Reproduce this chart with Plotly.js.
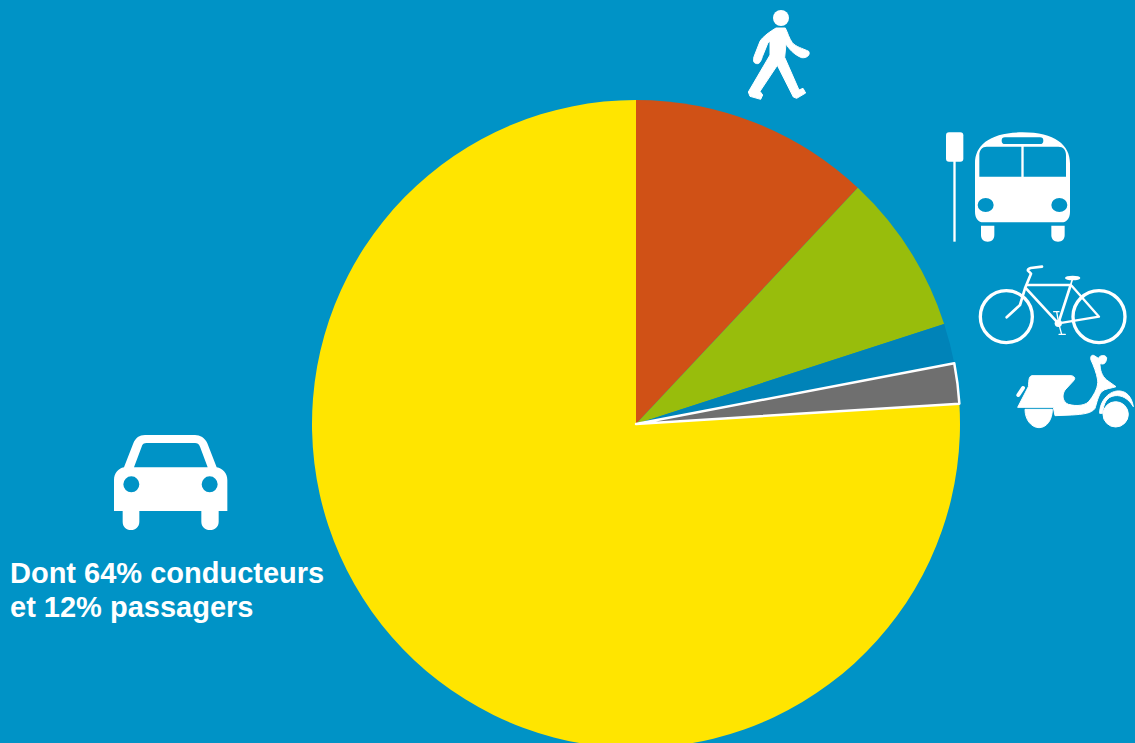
<!DOCTYPE html>
<html lang="fr">
<head>
<meta charset="utf-8">
<title>Parts modales des déplacements</title>
<script src="https://cdn.plot.ly/plotly-3.0.1.min.js"></script>
<style>
  html, body { margin: 0; padding: 0; width: 1135px; height: 743px; overflow: hidden; background: #0093C6; }
</style>
</head>
<body>
<div id="chart"></div>
<script>
// Parts modales, en % des déplacements
const modes = ['Voiture', 'Marche', 'Transports en commun', 'Vélo', 'Deux-roues motorisés'];
const shares = [76, 12, 8, 2, 2];
const sliceColors = ['#FFE500', '#D05116', '#98BD0C', '#0083B8', '#6F6F6F'];
const sliceLineWidths = [0, 0, 0, 0, 2.5];
const carNoteLines = ['Dont 64% conducteurs', 'et 12% passagers'];

// The figure is taller than the window so the disc runs off the bottom edge.
const W = 1135, H = 800;
const background = '#0093C6';

// Pictograms, each drawn in a local grid three times finer than page pixels.
const walkerSvg = `
  <circle cx="153" cy="54" r="24"/>
  <path stroke="#fff" stroke-width="3" stroke-linejoin="round" d="M138,84 C120,95 100,108 90,124 L72,170 C68,184 72,191 82,191 C90,191 94,180 97,170 L114,128 L120,124 L120,165 L55,276 L60,289 L92,298 L98,285 L90,274 L142,196 L190,291 L200,295 L227,279 L219,265 L207,270 L164,172 L168,132 C177,147 192,164 215,173 C230,175 242,165 236,154 C217,145 197,140 187,128 C177,115 174,100 166,84 Z"/>`;

const busSvg = `
  <rect x="33" y="37" width="52" height="88" rx="9"/>
  <rect x="55" y="120" width="7" height="245"/>
  <path fill-rule="evenodd" d="M120,130 C120,75 165,37 262,37 C360,37 405,75 405,130 L405,275 C405,295 395,307 380,307 L145,307 C130,307 120,295 120,275 Z
    M133,170 L133,105 C133,90 142,80 155,80 L259,80 L259,170 Z
    M266,80 L370,80 C385,80 393,90 393,105 L393,170 L266,170 Z
    M210,52 L315,52 A10,10 0 0 1 315,72 L210,72 A10,10 0 0 1 210,52 Z
    M128,255 A24,21 0 1 0 176,255 A24,21 0 1 0 128,255 Z
    M349,255 A24,21 0 1 0 397,255 A24,21 0 1 0 349,255 Z"/>
  <path d="M138,317 L178,317 L178,345 C178,358 170,365 158,365 C146,365 138,358 138,345 Z"/>
  <path d="M349,317 L389,317 L389,345 C389,358 381,365 369,365 C357,365 349,358 349,345 Z"/>`;

const bikeSvg = `
  <g fill="none" stroke="#fff" stroke-linecap="round" stroke-linejoin="round">
    <circle cx="109" cy="185" r="78" stroke-width="10"/>
    <circle cx="387" cy="185" r="78" stroke-width="10"/>
    <path stroke-width="8" d="M216,35 L182,39 Q172,42 174,47 L183,56 L165,100 L150,150 L110,187"/>
    <path stroke-width="8" d="M172,90 L302,90 L265,205 L168,100"/>
    <path stroke-width="7" d="M305,92 L387,185 L265,205"/>
    <path stroke-width="5" d="M302,90 L308,70"/>
    <path stroke-width="4" d="M251,170 L267,170 M260,170 L266,205 L275,238 M267,238 L286,238"/>
  </g>
  <ellipse cx="308" cy="69" rx="23" ry="7"/>
  <circle cx="265" cy="205" r="11"/>`;

const scooterSvg = `
  <g stroke="#fff" stroke-width="3" stroke-linejoin="round">
  <path d="M80,92 L200,92 C210,95 212,100 205,108 L180,135 C170,150 172,170 190,178 C215,185 245,182 255,165 C270,145 280,125 278,105 C275,85 265,60 258,45 C255,35 260,28 268,32 L280,40 C285,30 300,28 305,38 C305,50 298,62 285,55 C285,75 290,92 305,105 L333,125 C320,130 300,130 290,140 C280,150 275,175 270,190 C260,205 235,208 200,210 L150,212 L145,187 L38,187 L70,125 C72,110 70,95 80,92 Z"/>
  <path d="M60,193 L142,193 C142,225 125,248 102,248 C80,248 60,225 60,193 Z"/>
  <circle cx="332" cy="208" r="38"/>
  <path d="M284,205 C284,165 315,135 345,138 C365,140 380,155 385,185 C370,160 350,150 330,152 C305,155 295,175 293,205 Z"/>
  </g>
  <path d="M40,150 L54,129" stroke="#fff" stroke-width="12" stroke-linecap="round"/>`;

const carSvg = `
  <path fill-rule="evenodd" d="M42,165 C42,145 55,130 72,127 L100,55 C107,38 118,30 135,30 L285,30 C300,30 315,38 322,55 L350,127 C368,130 382,145 382,165 L382,258 L356,258 L356,290 C356,305 345,315 330,315 C315,315 304,305 304,290 L304,258 L118,258 L118,290 C118,305 107,315 93,315 C78,315 68,305 68,290 L68,258 L42,258 Z
    M102,127 L125,65 C127,57 132,54 140,54 L285,54 C292,54 297,57 300,65 L323,127 Z
    M70,178 A24,24 0 1 0 118,178 A24,24 0 1 0 70,178 Z
    M305,178 A24,24 0 1 0 353,178 A24,24 0 1 0 305,178 Z"/>`;

// Places a white pictogram with its local grid's origin at page pixel (left, top).
function pictogram(inner, left, top, width, height) {
  const svg = `<svg xmlns="http://www.w3.org/2000/svg" width="${width * 3}" height="${height * 3}" viewBox="0 0 ${width * 3} ${height * 3}" fill="#fff">${inner}</svg>`;
  return {
    source: 'data:image/svg+xml;charset=utf-8,' + encodeURIComponent(svg),
    xref: 'paper', yref: 'paper',
    x: left / W, y: 1 - top / H,
    sizex: width / W, sizey: height / H,
    xanchor: 'left', yanchor: 'top',
    sizing: 'stretch', layer: 'above'
  };
}

// One line of the note under the car.
function noteLine(text, top) {
  return {
    text: text, showarrow: false,
    xref: 'paper', yref: 'paper',
    x: 10 / W, y: 1 - top / H,
    xanchor: 'left', yanchor: 'top', align: 'left',
    borderpad: 0, borderwidth: 0,
    font: { family: 'Liberation Sans, Arial, sans-serif', size: 29, color: '#fff', weight: 700 }
  };
}

const pie = {
  type: 'pie',
  labels: modes,
  values: shares,
  sort: false,
  direction: 'clockwise',
  // Negative turn puts the end of the car slice, and the start of walking, at 12 o'clock.
  rotation: -shares[0] / 100 * 360,
  textinfo: 'none',
  hoverinfo: 'label+percent',
  showlegend: false,
  marker: { colors: sliceColors, line: { color: '#fff', width: sliceLineWidths } },
  domain: { x: [312 / W, 960 / W], y: [1 - 748 / H, 1 - 100 / H] }
};

const layout = {
  width: W, height: H,
  margin: { l: 0, r: 0, t: 0, b: 0 },
  paper_bgcolor: background,
  plot_bgcolor: background,
  showlegend: false,
  images: [
    pictogram(walkerSvg, 730, 0, 120, 110),
    pictogram(busSvg, 935, 120, 150, 130),
    pictogram(bikeSvg, 970, 255, 165, 95),
    pictogram(scooterSvg, 1005, 345, 130, 95),
    pictogram(carSvg, 100, 425, 140, 115)
  ],
  annotations: carNoteLines.map((line, i) => noteLine(line, 557 + i * 34))
};

Plotly.newPlot('chart', [pie], layout, { displayModeBar: false, staticPlot: true });
</script>
</body>
</html>
